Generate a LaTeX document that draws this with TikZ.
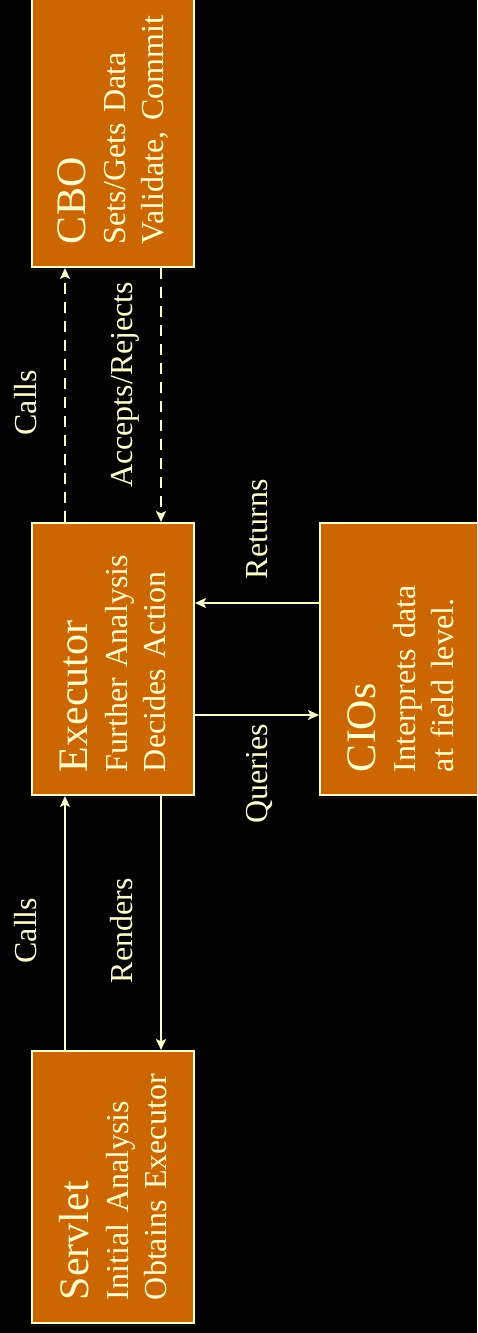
\documentclass[tikz,border=0pt]{standalone}
\usepackage{fontspec}
\setmainfont{Liberation Serif}
\usetikzlibrary{arrows.meta}

\definecolor{boxOrange}{HTML}{CC6600}
\definecolor{cream}{HTML}{FFFFCC}

\tikzstyle{boxNode}=[draw=cream, fill=boxOrange, line width=2pt, text=cream, rotate=90, minimum width=272pt, minimum height=162pt, text width=226pt, inner xsep=23pt, inner ysep=0pt, align=left, font=\fontsize{32}{38}\selectfont]
\tikzstyle{callArrow}=[draw=cream, line width=2pt, -{Stealth[length=11pt,width=10pt,inset=2.5pt]}]
\tikzstyle{dashArrow}=[callArrow, dash pattern=on 11pt off 8pt]
\tikzstyle{arrowLabel}=[text=cream, rotate=90, inner sep=0pt, text depth=0pt, font=\fontsize{32}{38}\selectfont]
\newcommand{\boxTitle}[1]{{\fontsize{42}{38}\selectfont #1}\\[2pt]}

\begin{document}
\begin{tikzpicture}[x=1pt, y=-1pt]
		\useasboundingbox (0,0) rectangle (477,1333);
		\fill[black] (0,0) rectangle (477,1333);
		\clip (0,0) rectangle (477,1333);
		
		\node[boxNode] (servlet) at (113, 1187) {\boxTitle{Servlet}Initial Analysis\\Obtains Executor};
		\node[boxNode] (executor) at (113, 659) {\boxTitle{Executor}Further Analysis\\Decides Action};
		\node[boxNode] (cbo) at (113, 131) {\boxTitle{CBO}Sets/Gets Data\\\mbox{Validate,\ Commit}};
		\node[boxNode] (cios) at (401, 659) {\boxTitle{CIOs}Interprets data\\at field level.};
		
		\draw[callArrow] ([xshift=-48pt]servlet.east) -- node[arrowLabel, pos=0.47, anchor=south, inner ysep=28pt] {Calls} ([xshift=-48pt]executor.west);
		\draw[callArrow] ([xshift=48pt]executor.west) -- node[arrowLabel, pos=0.53, anchor=south, inner ysep=28pt] {Renders} ([xshift=48pt]servlet.east);
		\draw[dashArrow] ([xshift=-48pt]executor.east) -- node[arrowLabel, pos=0.47, anchor=south, inner ysep=28pt] {Calls} ([xshift=-48pt]cbo.west);
		\draw[dashArrow] ([xshift=48pt]cbo.west) -- node[arrowLabel, pos=0.46, anchor=south, inner ysep=28pt] {Accepts/Rejects} ([xshift=48pt]executor.east);
		\draw[callArrow] ([yshift=-56pt]executor.south) -- node[arrowLabel, midway, anchor=east, inner xsep=8pt] {Queries} ([yshift=-56pt]cios.north);
		\draw[callArrow] ([yshift=56pt]cios.north) -- node[arrowLabel, midway, anchor=west, inner xsep=23pt] {Returns} ([yshift=56pt]executor.south);
\end{tikzpicture}
\end{document}
